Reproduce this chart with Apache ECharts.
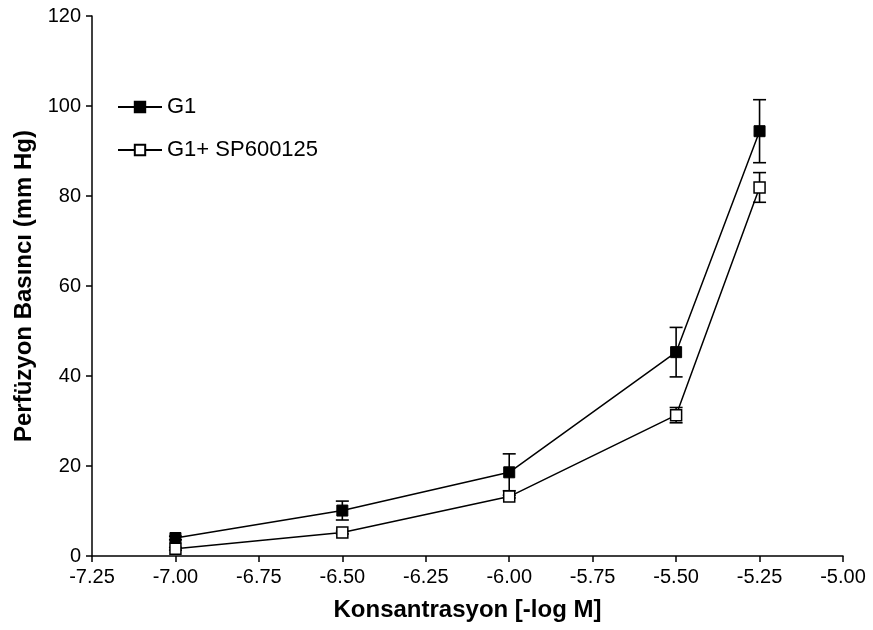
<!DOCTYPE html>
<html>
<head>
<meta charset="utf-8">
<script src="https://cdn.jsdelivr.net/npm/echarts@6/dist/echarts.min.js"></script>
<style>
  html, body { margin: 0; padding: 0; background: #fff; }
  #chart { width: 873px; height: 630px; }
</style>
</head>
<body>
<div id="chart"></div>
<script>
// Concentration points (-log M)
const concentrations = [-7.0, -6.5, -6.0, -5.5, -5.25];

// Perfusion pressure (mm Hg), mean and error
const g1Mean = [4.0, 10.1, 18.6, 45.3, 94.4];
const g1Err = [0.4, 2.1, 4.1, 5.5, 7.0];
const spMean = [1.6, 5.2, 13.2, 31.3, 81.9];
const spErr = [0.3, 0.3, 0.3, 1.7, 3.3];

const seriesNames = ['G1', 'G1+ SP600125'];

const FONT = '"Liberation Sans", Arial, Helvetica, sans-serif';

function pairs(xs, ys) {
  return xs.map((x, i) => [x, ys[i]]);
}

function errorData(xs, means, errs) {
  return xs.map((x, i) => [x, means[i] - errs[i], means[i] + errs[i]]);
}

function renderErrorBar(params, api) {
  const x = api.value(0);
  const lo = api.coord([x, api.value(1)]);
  const hi = api.coord([x, api.value(2)]);
  const half = 6.5;
  const style = { stroke: '#000', lineWidth: 1.6 };
  return {
    type: 'group',
    children: [
      { type: 'line', shape: { x1: lo[0], y1: lo[1], x2: hi[0], y2: hi[1] }, style },
      { type: 'line', shape: { x1: hi[0] - half, y1: hi[1], x2: hi[0] + half, y2: hi[1] }, style },
      { type: 'line', shape: { x1: lo[0] - half, y1: lo[1], x2: lo[0] + half, y2: lo[1] }, style }
    ]
  };
}

const chart = echarts.init(document.getElementById('chart'), null, { renderer: 'canvas' });

chart.setOption({
  backgroundColor: '#fff',
  animation: false,
  textStyle: { fontFamily: FONT },
  grid: { left: 92, right: 30, top: 16, bottom: 74 },
  legend: {
    orient: 'vertical',
    left: 112,
    top: 91,
    itemWidth: 44,
    itemHeight: 13,
    itemGap: 21,
    data: seriesNames,
    textStyle: { fontFamily: FONT, fontSize: 22, color: '#000' }
  },
  xAxis: {
    type: 'value',
    min: -7.25,
    max: -5.0,
    interval: 0.25,
    name: 'Konsantrasyon [-log M]',
    nameLocation: 'middle',
    nameGap: 42,
    nameTextStyle: { fontFamily: FONT, fontSize: 24, fontWeight: 'bold', color: '#000' },
    axisLine: { onZero: false, lineStyle: { color: '#000', width: 1.5 } },
    axisTick: { show: true, inside: false, length: 6, lineStyle: { color: '#000', width: 1.5 } },
    axisLabel: {
      margin: 11,
      fontFamily: FONT,
      fontSize: 20,
      color: '#000',
      formatter: v => v.toFixed(2)
    },
    splitLine: { show: false }
  },
  yAxis: {
    type: 'value',
    min: 0,
    max: 120,
    interval: 20,
    name: 'Perfüzyon Basıncı (mm Hg)',
    nameLocation: 'middle',
    nameGap: 56,
    nameTextStyle: { fontFamily: FONT, fontSize: 24, fontWeight: 'bold', color: '#000' },
    axisLine: { show: true, lineStyle: { color: '#000', width: 1.5 } },
    axisTick: { show: true, inside: false, length: 6, lineStyle: { color: '#000', width: 1.5 } },
    axisLabel: { margin: 11, fontFamily: FONT, fontSize: 20, color: '#000' },
    splitLine: { show: false }
  },
  series: [
    {
      name: 'G1 error',
      type: 'custom',
      renderItem: renderErrorBar,
      data: errorData(concentrations, g1Mean, g1Err),
      z: 1,
      silent: true
    },
    {
      name: 'G1+ SP600125 error',
      type: 'custom',
      renderItem: renderErrorBar,
      data: errorData(concentrations, spMean, spErr),
      z: 1,
      silent: true
    },
    {
      name: seriesNames[0],
      type: 'line',
      data: pairs(concentrations, g1Mean),
      symbol: 'rect',
      symbolSize: 11,
      showAllSymbol: true,
      lineStyle: { color: '#000', width: 1.5 },
      itemStyle: { color: '#000', borderColor: '#000', borderWidth: 1 },
      z: 3
    },
    {
      name: seriesNames[1],
      type: 'line',
      data: pairs(concentrations, spMean),
      symbol: 'rect',
      symbolSize: 11,
      showAllSymbol: true,
      lineStyle: { color: '#000', width: 1.5 },
      itemStyle: { color: '#fff', borderColor: '#000', borderWidth: 1.5 },
      z: 3
    }
  ]
});
</script>
</body>
</html>
